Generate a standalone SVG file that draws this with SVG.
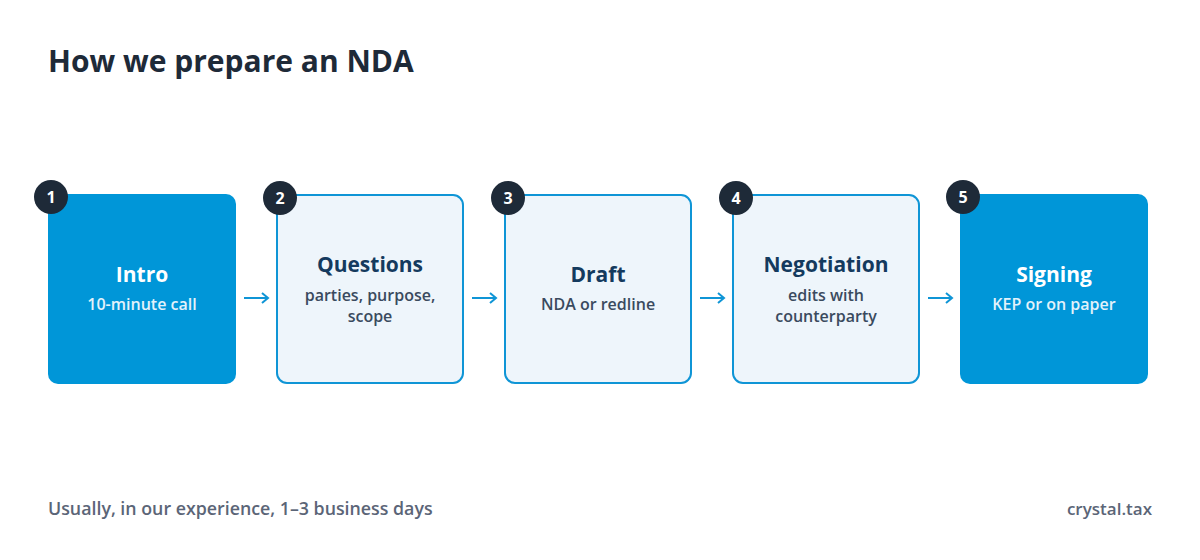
<svg xmlns="http://www.w3.org/2000/svg" width="1200" height="560" viewBox="0 0 1200 560">
<style>
text{font-family:"Open Sans","Noto Sans","Liberation Sans",sans-serif}
.title{font-size:30px;font-weight:700;fill:#1e2a38}
.solid{fill:#0096d8}
.light{fill:#eef5fb;stroke:#0f95d6;stroke-width:2}
.badge{fill:#1e2a38}
.bnum{font-size:16px;font-weight:700;fill:#fff;text-anchor:middle}
.h-w{font-size:21px;font-weight:700;fill:#fff;text-anchor:middle}
.s-w{font-size:16px;font-weight:600;fill:#e3f2fb;text-anchor:middle}
.h-d{font-size:21px;font-weight:700;fill:#143a5e;text-anchor:middle}
.s-d{font-size:16px;font-weight:600;fill:#3a4a5e;text-anchor:middle}
.foot{font-size:17.8px;font-weight:600;fill:#5b6577}
.brand{font-size:17px;font-weight:600;fill:#5b6577}
.conn{stroke:#0f95d6;stroke-width:2;fill:none}
</style>
<rect width="1200" height="560" fill="#fff"/>
<text class="title" x="48" y="72">How we prepare an NDA</text>
<g id="connectors">
<path class="conn" d="M244 298H268M262 293L268 298L262 303"/>
<path class="conn" d="M472 298H496M490 293L496 298L490 303"/>
<path class="conn" d="M700 298H724M718 293L724 298L718 303"/>
<path class="conn" d="M928 298H952M946 293L952 298L946 303"/>
</g>
<g id="step1">
<rect class="solid" x="48" y="194" width="188" height="190" rx="10"/>
<circle class="badge" cx="51" cy="197" r="17"/>
<text class="bnum" x="51" y="203">1</text>
<text class="h-w" x="142" y="282">Intro</text>
<text class="s-w" x="142" y="310">10-minute call</text>
</g>
<g id="step2">
<rect class="light" x="277" y="195" width="186" height="188" rx="10"/>
<circle class="badge" cx="280" cy="198" r="17"/>
<text class="bnum" x="280" y="204">2</text>
<text class="h-d" x="370" y="272">Questions</text>
<text class="s-d" x="370" y="301">parties, purpose,</text>
<text class="s-d" x="370" y="322">scope</text>
</g>
<g id="step3">
<rect class="light" x="505" y="195" width="186" height="188" rx="10"/>
<circle class="badge" cx="508" cy="198" r="17"/>
<text class="bnum" x="508" y="204">3</text>
<text class="h-d" x="598" y="282">Draft</text>
<text class="s-d" x="598" y="310">NDA or redline</text>
</g>
<g id="step4">
<rect class="light" x="733" y="195" width="186" height="188" rx="10"/>
<circle class="badge" cx="736" cy="198" r="17"/>
<text class="bnum" x="736" y="204">4</text>
<text class="h-d" x="826" y="272">Negotiation</text>
<text class="s-d" x="826" y="301">edits with</text>
<text class="s-d" x="826" y="322">counterparty</text>
</g>
<g id="step5">
<rect class="solid" x="960" y="194" width="188" height="190" rx="10"/>
<circle class="badge" cx="963" cy="197" r="17"/>
<text class="bnum" x="963" y="203">5</text>
<text class="h-w" x="1054" y="282">Signing</text>
<text class="s-w" x="1054" y="310">KEP or on paper</text>
</g>
<text class="foot" x="48" y="515">Usually, in our experience, 1–3 business days</text>
<text class="brand" x="1152" y="515" text-anchor="end">crystal.tax</text>
</svg>
